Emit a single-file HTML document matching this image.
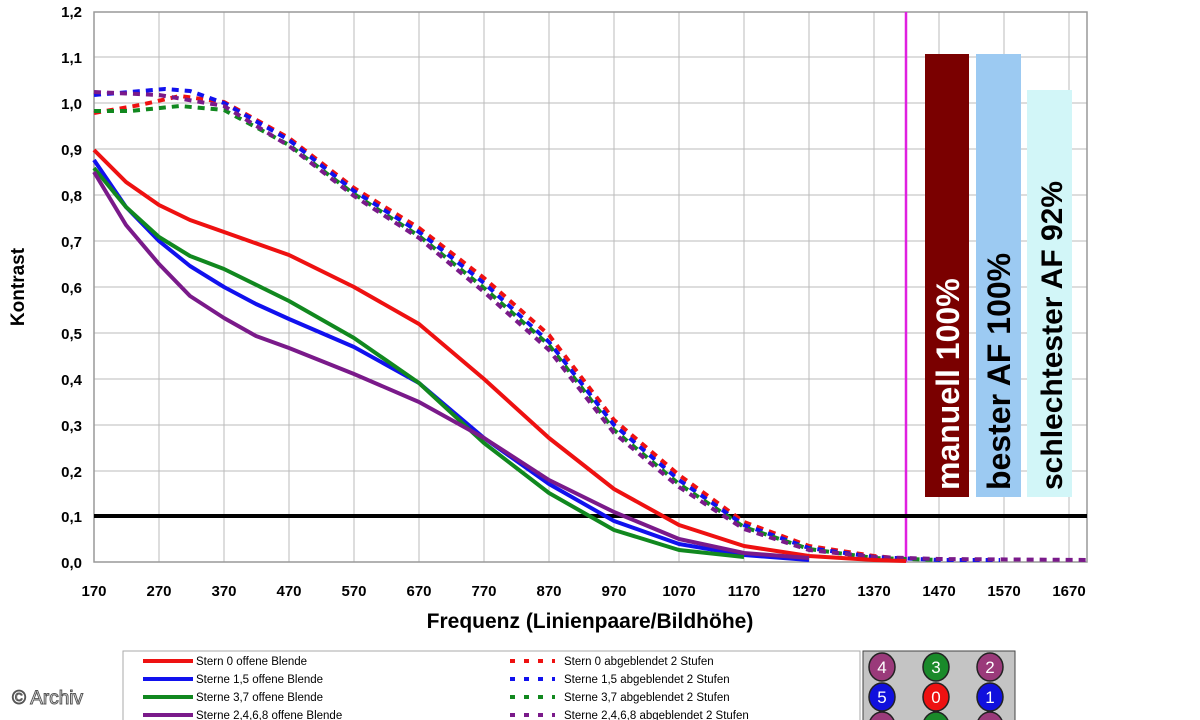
<!DOCTYPE html>
<html><head><meta charset="utf-8"><style>
html,body{margin:0;padding:0;background:#fff;}
svg{display:block;font-family:"Liberation Sans",Arial,sans-serif;}
</style></head><body>
<svg width="1200" height="720" viewBox="0 0 1200 720" xmlns="http://www.w3.org/2000/svg">
<rect width="1200" height="720" fill="#fff"/>
<g stroke="#bbb" stroke-width="1">
<line x1="94" y1="57" x2="1087" y2="57"/><line x1="94" y1="103" x2="1087" y2="103"/>
<line x1="94" y1="149" x2="1087" y2="149"/><line x1="94" y1="195" x2="1087" y2="195"/>
<line x1="94" y1="241" x2="1087" y2="241"/><line x1="94" y1="287" x2="1087" y2="287"/>
<line x1="94" y1="333" x2="1087" y2="333"/><line x1="94" y1="379" x2="1087" y2="379"/>
<line x1="94" y1="425" x2="1087" y2="425"/><line x1="94" y1="471" x2="1087" y2="471"/>
<line x1="159" y1="12" x2="159" y2="562"/><line x1="224" y1="12" x2="224" y2="562"/>
<line x1="289" y1="12" x2="289" y2="562"/><line x1="354" y1="12" x2="354" y2="562"/>
<line x1="419" y1="12" x2="419" y2="562"/><line x1="484" y1="12" x2="484" y2="562"/>
<line x1="549" y1="12" x2="549" y2="562"/><line x1="614" y1="12" x2="614" y2="562"/>
<line x1="679" y1="12" x2="679" y2="562"/><line x1="744" y1="12" x2="744" y2="562"/>
<line x1="809" y1="12" x2="809" y2="562"/><line x1="874" y1="12" x2="874" y2="562"/>
<line x1="939" y1="12" x2="939" y2="562"/><line x1="1004" y1="12" x2="1004" y2="562"/>
<line x1="1069" y1="12" x2="1069" y2="562"/>
</g>
<rect x="94" y="12" width="993" height="550" fill="none" stroke="#999" stroke-width="1.5"/>
<rect x="925" y="54" width="44" height="443" fill="#7a0000"/>
<rect x="976" y="54" width="45" height="443" fill="#9ccaf2"/>
<rect x="1027" y="90" width="45" height="407" fill="#d2f6f8"/>
<g font-weight="bold" font-size="32">
<text transform="translate(959,490) rotate(-90)" fill="#fff">manuell 100%</text>
<text transform="translate(1010,490) rotate(-90)" fill="#000">bester AF 100%</text>
<text transform="translate(1062,490) rotate(-90)" fill="#000" font-size="30">schlechtester AF 92%</text>
</g>
<line x1="906" y1="12" x2="906" y2="562" stroke="#e020e0" stroke-width="2.5"/>
<line x1="94" y1="516" x2="1087" y2="516" stroke="#000" stroke-width="4"/>
<g fill="none" stroke-width="4" stroke-dasharray="7 6" stroke-linejoin="round">
<polyline stroke="#ee1111" points="94,113 140,105 180,96 224,102 289,138 354,188 419,228 484,278 549,335 614,420 679,475 744,522 809,546 874,556 906,559"/>
<polyline stroke="#1111ee" points="94,95 130,92 165,89 190,91 224,103 289,140 354,191 419,232 484,283 549,342 614,425 679,480 744,525 809,548 874,557 939,560 1000,560"/>
<polyline stroke="#11881f" points="94,111 130,111 180,106 224,110 289,145 354,194 419,236 484,288 549,345 614,430 679,484 744,527 809,549 874,558 939,560"/>
<polyline stroke="#7a1a8a" points="94,92 159,95 224,106 289,146 354,196 419,238 484,292 549,350 614,433 679,487 744,529 809,550 874,557 939,559 1088,560"/>
</g>
<g fill="none" stroke-width="4" stroke-linejoin="round">
<polyline stroke="#ee1111" points="94,150 126,182 159,205 190,220 224,232 289,255 354,287 419,324 484,379 549,438 614,489 679,525 744,546 809,556 874,560 906,561"/>
<polyline stroke="#1111ee" points="94,160 126,207 159,241 190,266 224,287 256,304 289,319 354,347 419,383 484,438 549,484 614,521 679,544 744,555 809,560"/>
<polyline stroke="#11881f" points="94,168 126,207 159,237 190,256 224,269 289,301 354,338 419,383 484,443 549,493 614,530 679,550 744,557"/>
<polyline stroke="#7a1a8a" points="94,172 126,225 159,264 190,296 224,318 256,336 289,348 354,374 419,402 484,438 549,480 614,512 679,539 744,553 809,558"/>
</g>
<g font-size="15" font-weight="bold" text-anchor="end">
<text x="82" y="17">1,2</text><text x="82" y="63">1,1</text><text x="82" y="109">1,0</text>
<text x="82" y="155">0,9</text><text x="82" y="201">0,8</text><text x="82" y="247">0,7</text>
<text x="82" y="293">0,6</text><text x="82" y="339">0,5</text><text x="82" y="385">0,4</text>
<text x="82" y="431">0,3</text><text x="82" y="477">0,2</text><text x="82" y="522">0,1</text>
<text x="82" y="568">0,0</text>
</g>
<g font-size="15" font-weight="bold" text-anchor="middle">
<text x="94" y="596">170</text><text x="159" y="596">270</text><text x="224" y="596">370</text>
<text x="289" y="596">470</text><text x="354" y="596">570</text><text x="419" y="596">670</text>
<text x="484" y="596">770</text><text x="549" y="596">870</text><text x="614" y="596">970</text>
<text x="679" y="596">1070</text><text x="744" y="596">1170</text><text x="809" y="596">1270</text>
<text x="874" y="596">1370</text><text x="939" y="596">1470</text><text x="1004" y="596">1570</text>
<text x="1069" y="596">1670</text>
</g>
<text x="590" y="628" font-size="21" font-weight="bold" text-anchor="middle">Frequenz (Linienpaare/Bildhöhe)</text>
<text transform="translate(24,287) rotate(-90)" font-size="19" font-weight="bold" text-anchor="middle">Kontrast</text>
<rect x="123" y="651" width="737" height="75" fill="#fff" stroke="#aaa"/>
<g stroke-width="4">
<line x1="143" y1="661" x2="193" y2="661" stroke="#ee1111"/>
<line x1="143" y1="679" x2="193" y2="679" stroke="#1111ee"/>
<line x1="143" y1="697" x2="193" y2="697" stroke="#11881f"/>
<line x1="143" y1="715" x2="193" y2="715" stroke="#7a1a8a"/>
<g stroke-dasharray="5 9">
<line x1="510" y1="661" x2="555" y2="661" stroke="#ee1111"/>
<line x1="510" y1="679" x2="555" y2="679" stroke="#1111ee"/>
<line x1="510" y1="697" x2="555" y2="697" stroke="#11881f"/>
<line x1="510" y1="715" x2="555" y2="715" stroke="#7a1a8a"/>
</g></g>
<g font-size="11.5">
<text x="196" y="665">Stern 0 offene Blende</text>
<text x="196" y="683">Sterne 1,5 offene Blende</text>
<text x="196" y="701">Sterne 3,7 offene Blende</text>
<text x="196" y="719">Sterne 2,4,6,8 offene Blende</text>
<text x="564" y="665">Stern 0 abgeblendet 2 Stufen</text>
<text x="564" y="683">Sterne 1,5 abgeblendet 2 Stufen</text>
<text x="564" y="701">Sterne 3,7 abgeblendet 2 Stufen</text>
<text x="564" y="719">Sterne 2,4,6,8 abgeblendet 2 Stufen</text>
</g>
<text x="12" y="704" font-size="19" fill="#fff" stroke="#555" stroke-width="1">© Archiv</text>
<rect x="863" y="651" width="152" height="75" fill="#c4c4c4" stroke="#444"/>
<g stroke="#222" stroke-width="1.5">
<ellipse cx="882" cy="667" rx="13" ry="14" fill="#9a3a7a"/><ellipse cx="936" cy="667" rx="13" ry="14" fill="#1a8a2a"/><ellipse cx="990" cy="667" rx="13" ry="14" fill="#9a3a7a"/>
<ellipse cx="882" cy="697" rx="13" ry="14" fill="#1010dd"/><ellipse cx="936" cy="697" rx="13" ry="14" fill="#ee1111"/><ellipse cx="990" cy="697" rx="13" ry="14" fill="#1010dd"/>
<ellipse cx="882" cy="726" rx="13" ry="14" fill="#9a3a7a"/><ellipse cx="936" cy="726" rx="13" ry="14" fill="#1a8a2a"/><ellipse cx="990" cy="726" rx="13" ry="14" fill="#9a3a7a"/>
</g>
<g font-size="17" fill="#fff" text-anchor="middle">
<text x="882" y="673">4</text><text x="936" y="673">3</text><text x="990" y="673">2</text>
<text x="882" y="703">5</text><text x="936" y="703">0</text><text x="990" y="703">1</text>
</g>
</svg>
</body></html>
